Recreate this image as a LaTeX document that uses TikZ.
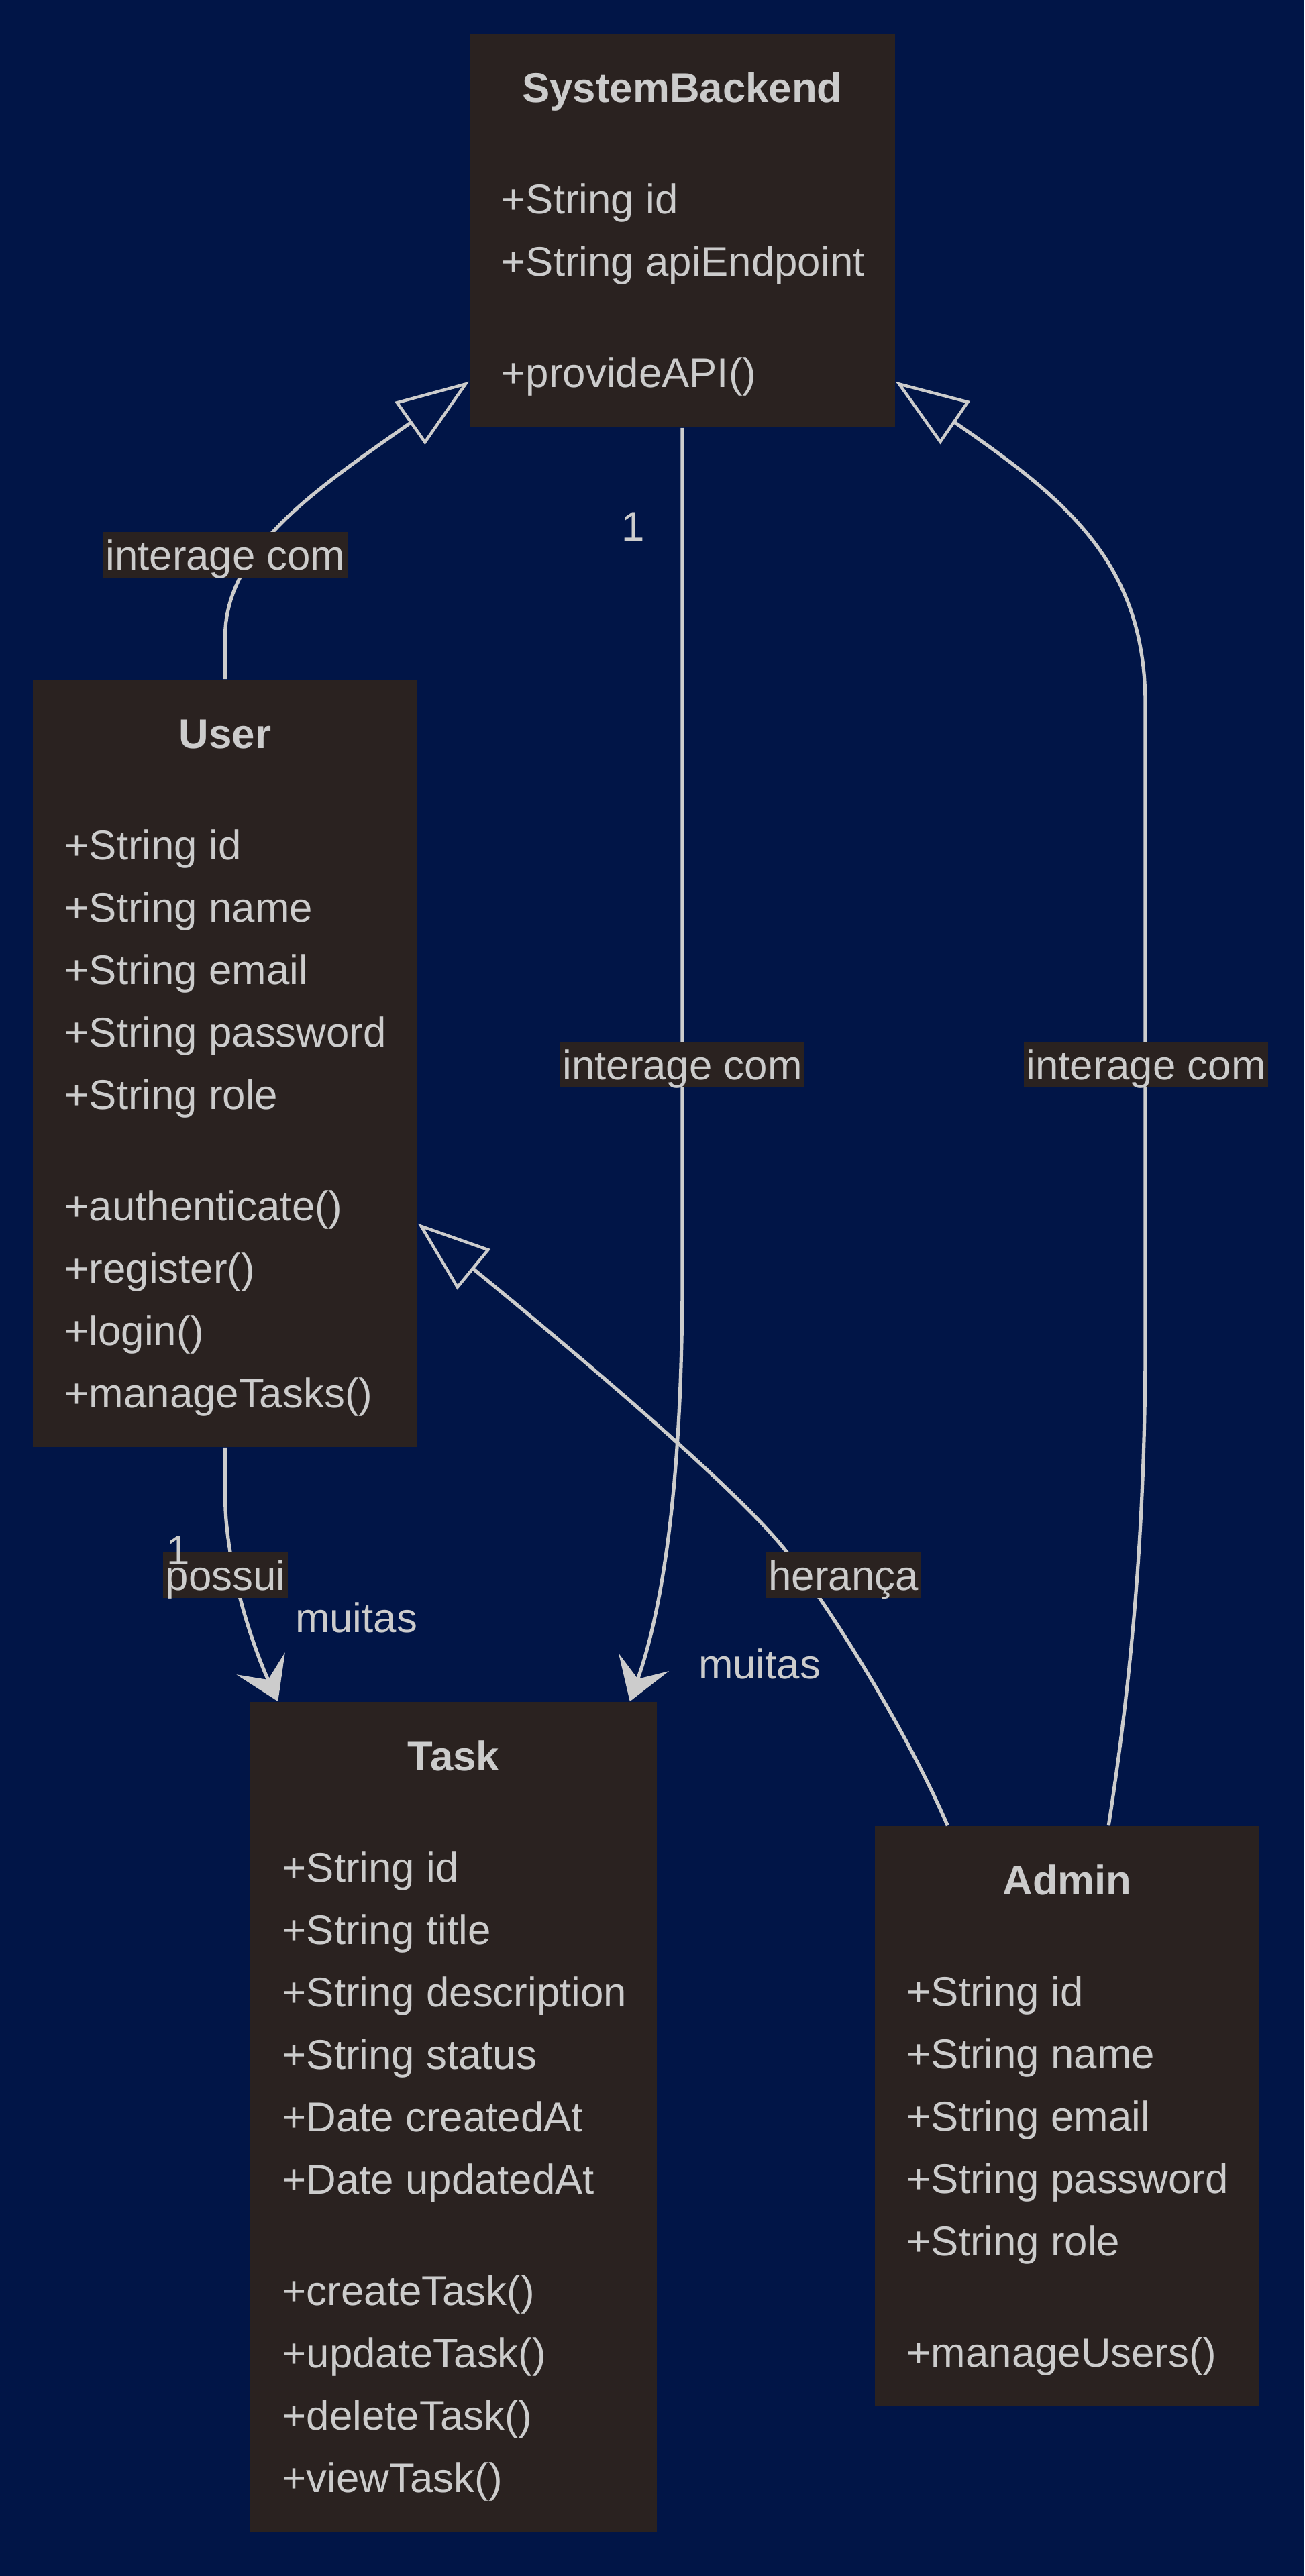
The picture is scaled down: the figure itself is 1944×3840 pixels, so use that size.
\documentclass[tikz,border=0pt]{standalone}
\usepackage{fontspec}
\setmainfont{Liberation Sans}
\usetikzlibrary{arrows.meta,fit,calc}
\definecolor{bg}{RGB}{1,21,71}
\definecolor{boxc}{RGB}{42,34,32}
\definecolor{fg}{RGB}{204,204,204}
\tikzset{
  classbox/.style={fill=boxc, draw=none, inner sep=0pt},
  ttl/.style={anchor=base, font=\fontsize{16}{24}\selectfont\bfseries, text=fg, inner sep=0pt},
  mem/.style={anchor=base west, font=\fontsize{16}{24}\selectfont, text=fg, inner sep=0pt},
  elabel/.style={fill=boxc, text=fg, font=\fontsize{16}{24}\selectfont, inner xsep=1pt, inner ysep=0.52pt, text height=14pt, text depth=2.6pt},
  card/.style={anchor=base, text=fg, font=\fontsize{16}{24}\selectfont, inner sep=0pt},
  conn/.style={draw=fg, line width=1.35pt},
  realize/.style={conn, -{Triangle[open, length=28pt, width=20pt, line width=1.15pt]}},
  assoc/.style={conn, -{Stealth[length=16pt, width=20.5pt, inset=6.8pt]}},
}
\begin{document}
\begin{tikzpicture}[x=0.259pt, y=-0.259pt]
\fill[bg] (0,0) rectangle (1944,3840);
\useasboundingbox (0,0) rectangle (1944,3840);

% SystemBackend
\node[classbox, fit={(700,51) (1334,637)}] (sb) {};
\node[ttl] (sbT) at (1017,153) {SystemBackend};
\node[mem] (sb1) at (747,319) {+String id};
\node[mem] (sb2) at (747,412) {+String apiEndpoint};
\node[mem] (sb3) at (747,578) {+provideAPI()};

% User
\node[classbox, fit={(49,1013) (622,2157)}] (user) {};
\node[ttl] (userT) at (335.5,1115) {User};
\node[mem] (u1) at (96,1281) {+String id};
\node[mem] (u2) at (96,1374) {+String name};
\node[mem] (u3) at (96,1467) {+String email};
\node[mem] (u4) at (96,1560) {+String password};
\node[mem] (u5) at (96,1653) {+String role};
\node[mem] (u6) at (96,1819) {+authenticate()};
\node[mem] (u7) at (96,1912) {+register()};
\node[mem] (u8) at (96,2005) {+login()};
\node[mem] (u9) at (96,2098) {+manageTasks()};

% Task
\node[classbox, fit={(373,2537) (979,3774)}] (task) {};
\node[ttl] (taskT) at (676,2639) {Task};
\node[mem] (t1) at (420,2805) {+String id};
\node[mem] (t2) at (420,2898) {+String title};
\node[mem] (t3) at (420,2991) {+String description};
\node[mem] (t4) at (420,3084) {+String status};
\node[mem] (t5) at (420,3177) {+Date createdAt};
\node[mem] (t6) at (420,3270) {+Date updatedAt};
\node[mem] (t7) at (420,3436) {+createTask()};
\node[mem] (t8) at (420,3529) {+updateTask()};
\node[mem] (t9) at (420,3622) {+deleteTask()};
\node[mem] (t10) at (420,3715) {+viewTask()};

% Admin
\node[classbox, fit={(1304,2722) (1877,3587)}] (admin) {};
\node[ttl] (adminT) at (1590.5,2824) {Admin};
\node[mem] (a1) at (1351,2990) {+String id};
\node[mem] (a2) at (1351,3083) {+String name};
\node[mem] (a3) at (1351,3176) {+String email};
\node[mem] (a4) at (1351,3269) {+String password};
\node[mem] (a5) at (1351,3362) {+String role};
\node[mem] (a6) at (1351,3528) {+manageUsers()};

% connectors
\draw[realize] (user.north) -- ($(user.north)+(0,-63)$)
  .. controls (335.5,820) and (470,730) .. ($(sb.south west)+(0,-69)$);
\draw[assoc] (sb.south) -- (1017,1900)
  .. controls (1017,2250) and (980,2420) .. ($(task.north east)+(-41,0)$);
\draw[realize] ($(admin.north west)+(349,0)$)
  .. controls (1690,2480) and (1707,2250) .. (1707,2000) -- (1707,1050)
  .. controls (1707,840) and (1590,745) .. ($(sb.south east)+(0,-69)$);
\draw[realize] ($(admin.north west)+(109,0)$)
  .. controls (1360,2600) and (1260,2430) .. (1173,2314)
  .. controls (1100,2220) and (850,2010) .. ($(user.south east)+(0,-334)$);
\draw[assoc] (user.south) -- (335.5,2230)
  .. controls (335.5,2330) and (375,2450) .. ($(task.north west)+(42,0)$);

% edge labels
\node[elabel] (l1) at (336,827) {interage com};
\node[elabel] (l2) at (1017,1587) {interage com};
\node[elabel] (l3) at (1708,1587) {interage com};
\node[elabel] (l4) at (1257,2348) {herança};
\node[elabel] (l5) at (336,2348) {possui};

% multiplicities
\node[card] (c1) at (944,807) {1};
\node[card] (c2) at (266,2332) {1};
\node[card] (c3) at (531,2433) {muitas};
\node[card] (c4) at (1132,2502) {muitas};
\end{tikzpicture}
\end{document}
